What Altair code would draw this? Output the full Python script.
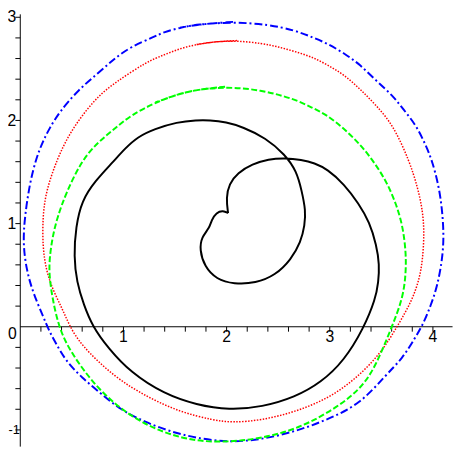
import altair as alt
import pandas as pd

# ---- curve data ----
BLACK_X = [2.019, 2.019, 2.0, 2.029, 2.111, 2.254, 2.410, 2.571, 2.730, 2.857, 2.981, 3.143, 3.286,
           3.390, 3.457, 3.486, 3.476, 3.448, 3.333, 3.143, 2.921, 2.667, 2.350, 2.029, 1.714, 1.397,
           1.076, 0.857, 0.705, 0.620, 0.552, 0.524, 0.543, 0.600, 0.730, 0.900, 1.019, 1.143, 1.305,
           1.524, 1.714, 1.838, 2.0, 2.162, 2.381, 2.571, 2.683, 2.733, 2.771, 2.762, 2.724, 2.629,
           2.476, 2.286, 2.076, 1.905, 1.790, 1.743, 1.762, 1.838, 1.857, 1.905, 1.971, 2.019, 2.019]
BLACK_Y = [1.098, 1.098, 1.248, 1.381, 1.489, 1.574, 1.622, 1.633, 1.616, 1.584, 1.524, 1.381, 1.190,
           1.010, 0.790, 0.600, 0.429, 0.267, -0.019, -0.333, -0.543, -0.686, -0.781, -0.810, -0.762,
           -0.654, -0.448, -0.210, 0.0, 0.210, 0.429, 0.679, 0.965, 1.219, 1.410, 1.590, 1.724, 1.838,
           1.914, 1.981, 2.0, 2.0, 1.981, 1.933, 1.829, 1.667, 1.505, 1.314, 1.124, 0.981, 0.819,
           0.648, 0.495, 0.419, 0.410, 0.457, 0.581, 0.743, 0.867, 0.952, 1.029, 1.105, 1.124, 1.098,
           1.098]

GREEN_X = [1.990, 1.619, 1.314, 1.076, 0.921, 0.762, 0.600, 0.445, 0.365, 0.317, 0.286, 0.286, 0.317,
           0.381, 0.495, 0.762, 1.076, 1.397, 1.714, 2.029, 2.350, 2.667, 2.981, 3.302, 3.457, 3.588,
           3.714, 3.743, 3.743, 3.714, 3.648, 3.552, 3.429, 3.302, 3.143, 2.981, 2.826, 2.667, 2.333,
           1.990, 1.619, 1.314]
GREEN_Y = [2.324, 2.286, 2.171, 2.048, 1.917, 1.790, 1.610, 1.286, 1.060, 0.870, 0.648, 0.486, 0.267,
           -0.019, -0.257, -0.619, -0.876, -1.035, -1.114, -1.121, -1.083, -1.0, -0.845, -0.619,
           -0.369, -0.048, 0.267, 0.524, 0.714, 0.965, 1.190, 1.410, 1.600, 1.762, 1.917, 2.048,
           2.124, 2.203, 2.295, 2.324, 2.286, 2.171]

RED_X = [2.105, 1.873, 1.714, 1.552, 1.397, 1.238, 0.921, 0.762, 0.603, 0.476, 0.365, 0.254, 0.222,
         0.222, 0.254, 0.317, 0.412, 0.476, 0.588, 0.921, 1.238, 1.552, 1.873, 2.064, 2.350, 2.667,
         2.981, 3.238, 3.492, 3.667, 3.800, 3.873, 3.905, 3.921, 3.905, 3.857, 3.778, 3.619, 3.457,
         3.302, 3.143, 2.981, 2.826, 2.667, 2.505, 2.350, 2.105, 1.873, 1.714]
RED_Y = [2.771, 2.759, 2.733, 2.695, 2.631, 2.571, 2.362, 2.235, 2.045, 1.857, 1.631, 1.314, 1.060,
         0.774, 0.552, 0.362, 0.171, 0.019, -0.178, -0.495, -0.686, -0.829, -0.908, -0.933, -0.908,
         -0.829, -0.702, -0.524, -0.273, 0.012, 0.248, 0.457, 0.648, 0.905, 1.124, 1.346, 1.600,
         1.952, 2.140, 2.298, 2.441, 2.536, 2.616, 2.664, 2.711, 2.743, 2.771, 2.759, 2.733]

BLUE_X = [2.067, 1.714, 1.552, 1.397, 1.302, 1.076, 0.921, 0.762, 0.571, 0.381, 0.286, 0.222, 0.159,
          0.095, 0.048, 0.031, 0.064, 0.127, 0.222, 0.286, 0.350, 0.445, 0.600, 0.790, 0.981, 1.207,
          1.457, 1.714, 2.029, 2.350, 2.667, 2.981, 3.302, 3.543, 3.714, 3.829, 3.905, 3.984, 4.048,
          4.095, 4.111, 4.095, 4.064, 4.0, 3.933, 3.841, 3.714, 3.619, 3.457, 3.302, 3.143, 2.981,
          2.826, 2.667, 2.410, 2.067, 1.714, 1.552]
BLUE_Y = [2.952, 2.927, 2.895, 2.854, 2.807, 2.711, 2.600, 2.457, 2.298, 2.076, 1.917, 1.790, 1.631,
          1.381, 1.060, 0.807, 0.552, 0.330, 0.108, -0.048, -0.162, -0.333, -0.495, -0.654, -0.810,
          -0.924, -1.019, -1.083, -1.124, -1.095, -1.019, -0.905, -0.750, -0.476, -0.305, -0.114,
          0.012, 0.203, 0.393, 0.648, 0.870, 1.124, 1.346, 1.600, 1.762, 1.952, 2.108, 2.235, 2.378,
          2.536, 2.648, 2.743, 2.807, 2.870, 2.927, 2.952, 2.927, 2.895]

# ---- axes ----
X_DOMAIN = [0, 4.19]
Y_DOMAIN = [-1.16, 3.03]
X_TICKS = [0.2, 0.4, 0.6, 0.8, 1, 1.2, 1.4, 1.6, 1.8, 2, 2.2, 2.4, 2.6, 2.8, 3,
           3.2, 3.4, 3.6, 3.8, 4]
Y_TICKS = [-1, -0.8, -0.6, -0.4, -0.2, 0.2, 0.4, 0.6, 0.8, 1, 1.2, 1.4, 1.6, 1.8,
           2, 2.2, 2.4, 2.6, 2.8, 3]
X_LABELS = [1, 2, 3, 4]
Y_LABELS = [-1, 1, 2, 3]
ORIGIN_LABEL = "0"

FONT = "Liberation Sans"

PLOT_W = 440
PLOT_H = 440


def curve_df(xs, ys):
    return pd.DataFrame({"x": xs, "y": ys, "i": list(range(len(xs)))})


xscale = alt.Scale(domain=X_DOMAIN, nice=False, zero=False)
yscale = alt.Scale(domain=Y_DOMAIN, nice=False, zero=False)

# x axis sits at y = 0: shift it up from the bottom edge
x_offset = -round(PLOT_H * (0 - Y_DOMAIN[0]) / (Y_DOMAIN[1] - Y_DOMAIN[0]))

x_axis = alt.Axis(
    values=X_TICKS, orient="bottom", offset=x_offset, title=None, grid=False,
    domainColor="black", tickColor="black", tickSize=5, labelColor="black",
    labelFont=FONT, labelFontSize=16, labelPadding=-2.5, labelFlush=False,
    labelOverlap=False, labelBaseline="top",
    labelExpr="indexof(" + str(X_LABELS) + ", datum.value) >= 0 ? '' + datum.value : ''",
)
y_axis = alt.Axis(
    values=Y_TICKS, orient="left", title=None, grid=False,
    domainColor="black", tickColor="black", tickSize=5, labelColor="black",
    labelFont=FONT, labelFlush=False, labelOverlap=False, labelBaseline="middle",
    labelFontSize={"condition": {"test": "datum.value == -1", "value": 13}, "value": 16},
    labelPadding={"condition": {"test": "datum.value == -1", "value": -4.5}, "value": -1},
    labelExpr="indexof(" + str(Y_LABELS) + ", datum.value) >= 0 ? '' + datum.value : ''",
)

X_ENC = alt.X("x:Q", scale=xscale, axis=x_axis)
Y_ENC = alt.Y("y:Q", scale=yscale, axis=y_axis)


def layer(xs, ys, color, width, dash=None):
    mark_kwargs = dict(color=color, strokeWidth=width, interpolate="basis",
                       clip=False, strokeCap="butt")
    if dash is not None:
        mark_kwargs["strokeDash"] = dash
    return alt.Chart(curve_df(xs, ys)).mark_line(**mark_kwargs).encode(
        x=X_ENC, y=Y_ENC, order="i:Q",
    )


blue = layer(BLUE_X, BLUE_Y, "#0000ff", 2, [8, 3, 2, 3])
red = layer(RED_X, RED_Y, "#ff0000", 1.5, [1.5, 1.5])
green = layer(GREEN_X, GREEN_Y, "#00ff00", 2, [6, 2.5])
black = layer(BLACK_X, BLACK_Y, "#000000", 2)

origin = alt.Chart(pd.DataFrame({"x": [0], "y": [0], "t": [ORIGIN_LABEL]})).mark_text(
    align="right", baseline="top", dx=-3, dy=0, font=FONT, fontSize=16, color="black"
).encode(x=X_ENC, y=Y_ENC, text="t:N")

chart = alt.layer(blue, red, green, black, origin).properties(
    width=PLOT_W, height=PLOT_H,
    autosize=alt.AutoSizeParams(type="none"),
    padding={"left": 12, "top": 2, "right": 4, "bottom": 0},
    background="white",
).configure_view(stroke=None)

chart.save("out.html", embed_options={"renderer": "svg", "actions": False})
